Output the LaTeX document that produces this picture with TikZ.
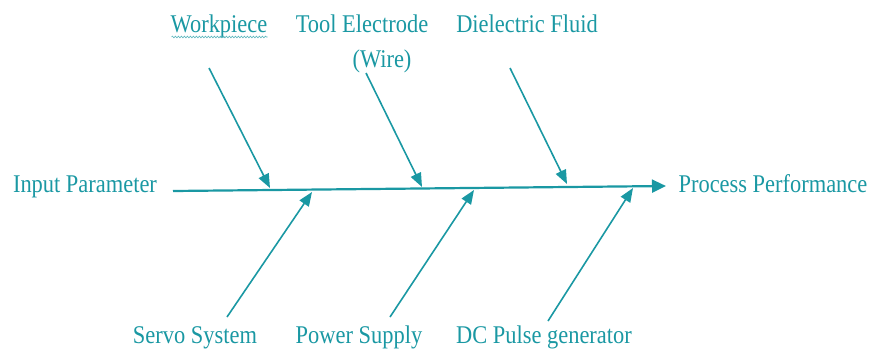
\documentclass[tikz,border=0pt]{standalone}
\usepackage{fontspec}
\setmainfont{Liberation Serif}[FakeStretch=0.88]
\usetikzlibrary{arrows.meta,decorations.pathmorphing}
\definecolor{teal1}{RGB}{26,152,163}
\begin{document}
\begin{tikzpicture}[x=1pt,y=-1pt,
  lbl/.style={inner sep=0pt,anchor=base,text=teal1,font=\fontsize{25.5pt}{30pt}\selectfont},
  branch/.style={draw=teal1,line width=1.6pt,-{Triangle[length=14pt,width=11pt]}},
  spine/.style={draw=teal1,line width=2.2pt,-{Triangle[length=14pt,width=13pt]}}]
\useasboundingbox (0,0) rectangle (870,349);
% labels
\node[lbl] (wp) at (219,32) {Workpiece};
\node[lbl] (tool) at (362,32) {Tool Electrode};
\node[lbl] (wire) at (382,67) {(Wire)};
\node[lbl] (df) at (527,32) {Dielectric Fluid};
\node[lbl] (inp) at (85,192) {Input Parameter};
\node[lbl] (pp) at (773,192) {Process Performance};
\node[lbl] (servo) at (195,343) {Servo System};
\node[lbl] (power) at (359,343) {Power Supply};
\node[lbl] (dc) at (544,343) {DC Pulse generator};
% spell-check squiggle under Workpiece
\draw[teal1!70,line width=0.6pt,decorate,decoration={snake,amplitude=0.9pt,segment length=3pt}]
  (wp.base west)++(1,5) coordinate (sqA) -- (wp.base east|-sqA) coordinate (sqB);
% spine
\coordinate (s0) at (173,191);
\coordinate (s1) at (666,186);
\draw[spine] (s0) -- (s1);
% branch coordinates
\coordinate (a1) at (209,68);  \coordinate (b1) at (270,188);
\coordinate (a2) at (366,73);  \coordinate (b2) at (422,187);
\coordinate (a3) at (510,68);  \coordinate (b3) at (567,184);
\coordinate (c1) at (227,317); \coordinate (d1) at (312,192);
\coordinate (c2) at (390,317); \coordinate (d2) at (474,190);
\coordinate (c3) at (548,321); \coordinate (d3) at (633,188);
\draw[branch] (a1) -- (b1);
\draw[branch] (a2) -- (b2);
\draw[branch] (a3) -- (b3);
\draw[branch] (c1) -- (d1);
\draw[branch] (c2) -- (d2);
\draw[branch] (c3) -- (d3);
\end{tikzpicture}
\end{document}
